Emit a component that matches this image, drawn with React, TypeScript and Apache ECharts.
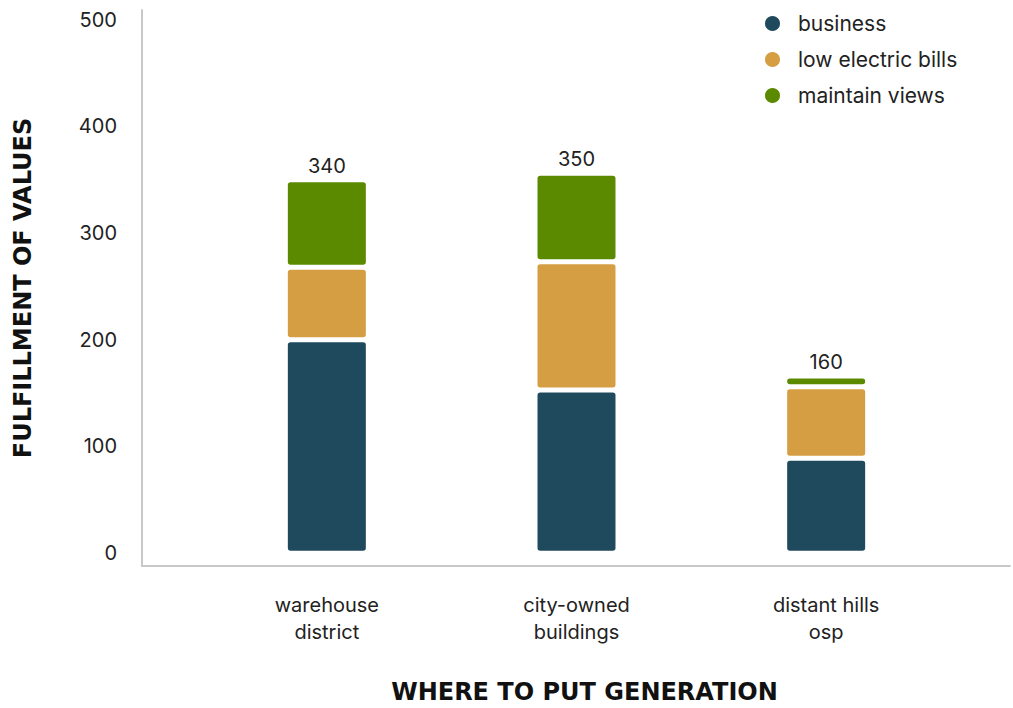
import React, { useEffect, useRef } from "react";
import * as echarts from "echarts";

const categories = ["warehouse\ndistrict", "city-owned\nbuildings", "distant hills\nosp"];
const seriesNames = ["business", "low electric bills", "maintain views"];
const business = [200, 153, 89];
const lowElectricBills = [68, 120, 67];
const maintainViews = [82, 83, 10];
const totals = [340, 350, 160];
const yTicks = [0, 100, 200, 300, 400, 500];
const colors = ["#1f4a5e", "#d69e42", "#5b8a00"];

const FONT = "Inter, 'Noto Sans', sans-serif";

export default function App() {
  const ref = useRef<HTMLDivElement>(null);
  useEffect(() => {
    document.body.style.margin = "0";
    const chart = echarts.init(ref.current!, null, { renderer: "svg" });
    const values = [business, lowElectricBills, maintainViews];
    const axisLineStyle = { color: "#c8c8c8", width: 2 };
    chart.setOption({
      animation: false,
      textStyle: { fontFamily: FONT },
      grid: [
        { left: 142, right: 3, top: 10, bottom: 142, outerBoundsMode: "none", containLabel: false },
        { left: 202, right: 62, top: 10, bottom: 142, outerBoundsMode: "none", containLabel: false },
      ],
      legend: {
        orient: "vertical",
        left: 758,
        top: 8,
        itemWidth: 17,
        itemHeight: 17,
        itemGap: 15,
        icon: "circle",
        data: seriesNames,
        textStyle: { fontSize: 21, color: "#222", padding: [0, 0, 0, 12], fontFamily: FONT },
      },
      xAxis: [
        {
          gridIndex: 0,
          type: "value",
          min: 0,
          max: 1,
          axisLine: { show: true, onZero: false, lineStyle: axisLineStyle },
          axisTick: { show: false },
          axisLabel: { show: false },
          splitLine: { show: false },
        },
        {
          gridIndex: 1,
          type: "category",
          data: categories,
          axisLine: { show: false },
          axisTick: { show: false },
          splitLine: { show: false },
          axisLabel: { fontSize: 20, lineHeight: 27, color: "#222", margin: 25, fontFamily: FONT },
          name: "WHERE TO PUT GENERATION",
          nameLocation: "middle",
          nameGap: 114,
          nameTextStyle: {
            fontSize: 24,
            fontWeight: "bold",
            color: "#111",
            fontFamily: "'DejaVu Sans', sans-serif",
            padding: [0, 0, 0, 16],
          },
        },
      ],
      yAxis: [
        {
          gridIndex: 0,
          type: "value",
          min: -12,
          max: 509,
          axisLine: { show: true, onZero: false, lineStyle: axisLineStyle },
          axisTick: { show: false },
          splitLine: { show: false },
          axisLabel: { customValues: yTicks, fontSize: 20, color: "#222", margin: 25, fontFamily: FONT },
          name: "FULFILLMENT OF VALUES",
          nameLocation: "middle",
          nameRotate: 90,
          nameGap: 107,
          nameTextStyle: {
            fontSize: 24,
            fontWeight: "bold",
            color: "#111",
            fontFamily: "'DejaVu Sans', sans-serif",
          },
        },
        { gridIndex: 1, type: "value", min: -12, max: 509, show: false },
      ],
      series: seriesNames.map((name, i) => ({
        name,
        type: "bar",
        stack: "total",
        xAxisIndex: 1,
        yAxisIndex: 1,
        barWidth: 83,
        data: values[i],
        itemStyle: { color: colors[i], borderColor: "#fff", borderWidth: 2.5, borderRadius: 4 },
        label:
          i === seriesNames.length - 1
            ? {
                show: true,
                position: "top",
                distance: 4,
                fontSize: 20,
                color: "#222",
                fontFamily: FONT,
                formatter: (p: any) => String(totals[p.dataIndex]),
              }
            : { show: false },
      })),
    });
    return () => chart.dispose();
  }, []);
  return <div ref={ref} style={{ width: 1013, height: 708 }} />;
}
